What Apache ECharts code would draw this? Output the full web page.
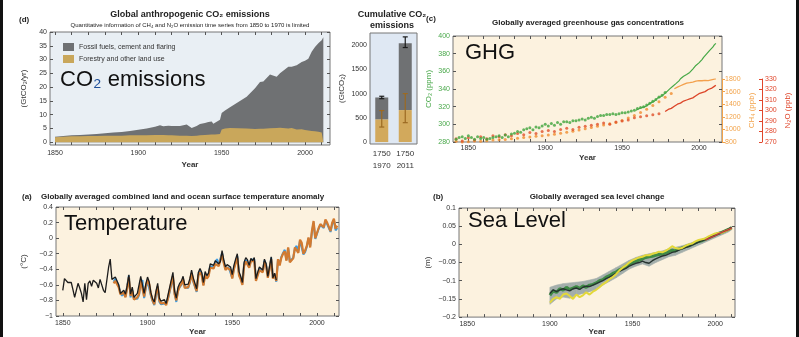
<!DOCTYPE html>
<html>
<head>
<meta charset="utf-8">
<script src="https://cdn.jsdelivr.net/npm/echarts@6/dist/echarts.min.js"></script>
<style>
  html, body { margin: 0; padding: 0; background: #fff; }
  #chart { width: 799px; height: 337px; }
</style>
</head>
<body>
<div id="chart"></div>
<script>
// ---- (d) annual CO2 emissions, GtCO2/yr (top of grey area = total, top of tan area = land use) ----
const emYears = [1850, 1855, 1860, 1865, 1870, 1875, 1880, 1885, 1890, 1895,
  1900, 1905, 1910, 1913, 1915, 1918, 1920, 1921, 1925, 1929,
  1932, 1935, 1937, 1940, 1942, 1944, 1945, 1946, 1949, 1950,
  1952, 1955, 1960, 1965, 1970, 1973, 1975, 1979, 1980, 1983,
  1985, 1990, 1992, 1995, 1998, 2000, 2002, 2004, 2006, 2008,
  2009, 2010, 2011];
const emTotal = [2.0, 2.3, 2.5, 2.6, 2.8, 3.0, 3.3, 3.5, 3.7, 4.1,
  4.5, 5.0, 5.6, 6.2, 5.8, 6.0, 5.9, 5.4, 5.9, 6.4,
  5.2, 5.9, 6.6, 7.0, 7.3, 7.5, 6.7, 7.0, 8.2, 10.6,
  11.5, 12.7, 14.6, 16.5, 19.6, 21.9, 22.0, 24.6, 24.5, 23.8,
  25.0, 27.4, 27.4, 27.9, 29.1, 29.6, 30.3, 32.8, 34.6, 35.9,
  35.4, 37.0, 38.1];
const emLand = [1.8, 2.0, 2.2, 2.2, 2.3, 2.3, 2.4, 2.4, 2.4, 2.5,
  2.5, 2.5, 2.6, 2.6, 2.6, 2.5, 2.5, 2.5, 2.4, 2.4,
  2.3, 2.4, 2.5, 2.6, 2.7, 2.8, 2.8, 2.8, 3.0, 4.6,
  5.0, 5.2, 5.1, 5.0, 4.8, 4.9, 4.9, 5.1, 5.1, 5.2,
  5.3, 5.0, 5.2, 4.6, 4.7, 4.4, 4.3, 4.1, 4.0, 3.8,
  3.6, 3.5, 3.3];

// ---- cumulative CO2 emissions, GtCO2 ----
const cumCats = ['1750\n1970', '1750\n2011'];
const cumLand = [470, 660];
const cumFossil = [450, 1380];
const cumTotalLo = [895, 1950];
const cumTotalHi = [945, 2170];
const cumLandLo = [310, 400];
const cumLandHi = [650, 1000];

// ---- (c) greenhouse gas concentrations ----
const co2DotYears = [1842, 1844, 1846, 1848, 1850, 1852, 1854, 1856, 1858, 1860,
  1862, 1864, 1866, 1868, 1870, 1872, 1874, 1876, 1878, 1880,
  1882, 1884, 1886, 1888, 1890, 1892, 1894, 1896, 1898, 1900,
  1902, 1904, 1906, 1908, 1910, 1912, 1914, 1916, 1918, 1920,
  1922, 1924, 1926, 1928, 1930, 1932, 1934, 1936, 1938, 1940,
  1942, 1944, 1946, 1948, 1950, 1952, 1954, 1956, 1958, 1960,
  1962, 1964, 1966, 1968, 1970, 1972, 1974, 1976, 1978];
const co2DotVals = [283, 285, 286, 284, 287, 285, 283, 286, 284, 285,
  283, 284, 285, 286, 287, 285, 288, 286, 289, 290,
  292, 291, 294, 295, 296, 294, 297, 296, 298, 300,
  298, 301, 299, 302, 300, 303, 303, 302, 304, 304,
  305, 306, 305, 307, 308, 307, 309, 310, 310, 311,
  311, 312, 311, 312, 313, 313, 314, 315, 316, 318,
  319, 320, 322, 324, 326, 328, 331, 333, 336];
const co2LineYears = [1959, 1960, 1961, 1962, 1963, 1964, 1965, 1966, 1967, 1968,
  1969, 1970, 1971, 1972, 1973, 1974, 1975, 1976, 1977, 1978,
  1979, 1980, 1981, 1982, 1983, 1984, 1985, 1986, 1987, 1988,
  1989, 1990, 1991, 1992, 1993, 1994, 1995, 1996, 1997, 1998,
  1999, 2000, 2001, 2002, 2003, 2004, 2005, 2006, 2007, 2008,
  2009, 2010, 2011];
const co2LineVals = [316.0, 316.9, 317.6, 318.5, 319.0, 319.6, 320.0, 321.4, 322.2, 323.0,
  324.6, 325.7, 326.3, 327.5, 329.7, 330.2, 331.1, 332.0, 333.8, 335.4,
  336.8, 338.8, 340.1, 341.5, 343.1, 344.7, 346.1, 347.4, 349.2, 351.6,
  353.1, 354.4, 355.6, 356.5, 357.1, 358.8, 360.8, 362.6, 363.7, 366.7,
  368.4, 369.6, 371.1, 373.3, 375.8, 377.5, 379.8, 381.9, 383.8, 385.6,
  387.4, 389.9, 391.7];
const ch4DotYears = [1842, 1846, 1850, 1854, 1858, 1862, 1866, 1870, 1874, 1878,
  1882, 1886, 1890, 1894, 1898, 1902, 1906, 1910, 1914, 1918,
  1922, 1926, 1930, 1934, 1938, 1942, 1946, 1950, 1954, 1958,
  1962, 1966, 1970, 1974, 1978, 1982];
const ch4DotVals = [810, 800, 805, 815, 810, 820, 830, 835, 840, 850,
  860, 870, 880, 890, 900, 910, 925, 940, 955, 970,
  990, 1010, 1030, 1050, 1070, 1090, 1110, 1140, 1180, 1220,
  1270, 1320, 1380, 1440, 1510, 1570];
const ch4LineYears = [1984, 1986, 1988, 1990, 1992, 1994, 1996, 1998, 2000, 2002, 2004, 2006, 2008, 2010, 2011];
const ch4LineVals = [1645, 1670, 1693, 1714, 1735, 1742, 1751, 1766, 1773, 1772, 1777, 1775, 1787, 1799, 1803];
const n2oDotYears = [1842, 1846, 1850, 1854, 1858, 1862, 1866, 1870, 1874, 1878,
  1882, 1886, 1890, 1894, 1898, 1902, 1906, 1910, 1914, 1918,
  1922, 1926, 1930, 1934, 1938, 1942, 1946, 1950, 1954, 1958,
  1962, 1966, 1970, 1974];
const n2oDotVals = [273, 271, 274, 272, 275, 273, 276, 275, 277, 276,
  278, 277, 279, 278, 280, 281, 280, 282, 283, 282,
  284, 285, 286, 287, 288, 287, 289, 290, 291, 293,
  294, 295, 296, 297];
const n2oLineYears = [1978, 1980, 1982, 1984, 1986, 1988, 1990, 1992, 1994, 1996, 1998, 2000, 2002, 2004, 2006, 2008, 2010, 2011];
const n2oLineVals = [299, 301, 302, 304, 306, 307, 309, 310, 311, 312, 314, 316, 317, 318, 320, 321, 323, 324];

// ---- (a) temperature anomaly, degC (yearly) ----
const tempBlackStart = 1850;
const tempBlack = [-0.67, -0.52, -0.53, -0.57, -0.55, -0.57, -0.66, -0.76, -0.77, -0.58,
  -0.64, -0.71, -0.82, -0.58, -0.79, -0.58, -0.55, -0.62, -0.54, -0.56,
  -0.58, -0.64, -0.53, -0.60, -0.67, -0.70, -0.68, -0.38, -0.27, -0.53,
  -0.53, -0.50, -0.51, -0.60, -0.71, -0.69, -0.67, -0.72, -0.61, -0.47,
  -0.72, -0.63, -0.76, -0.77, -0.71, -0.69, -0.49, -0.51, -0.71, -0.59,
  -0.50, -0.56, -0.70, -0.78, -0.82, -0.68, -0.58, -0.77, -0.81, -0.82,
  -0.79, -0.84, -0.74, -0.72, -0.54, -0.44, -0.68, -0.77, -0.63, -0.58,
  -0.55, -0.49, -0.60, -0.58, -0.59, -0.52, -0.41, -0.51, -0.51, -0.65,
  -0.44, -0.39, -0.44, -0.57, -0.43, -0.48, -0.45, -0.33, -0.31, -0.35,
  -0.29, -0.28, -0.33, -0.30, -0.16, -0.28, -0.37, -0.34, -0.34, -0.37,
  -0.47, -0.35, -0.27, -0.20, -0.43, -0.49, -0.57, -0.31, -0.25, -0.28,
  -0.35, -0.26, -0.29, -0.25, -0.52, -0.44, -0.37, -0.37, -0.41, -0.27,
  -0.33, -0.49, -0.37, -0.24, -0.51, -0.45, -0.54];
const tempColorStart = 1880;
const tempOrange = [-0.58, -0.55, -0.56, -0.63, -0.72, -0.73, -0.70, -0.76, -0.64, -0.50,
  -0.74, -0.68, -0.79, -0.80, -0.76, -0.72, -0.54, -0.55, -0.75, -0.62,
  -0.54, -0.59, -0.72, -0.80, -0.85, -0.71, -0.62, -0.80, -0.84, -0.86,
  -0.83, -0.86, -0.78, -0.76, -0.58, -0.49, -0.72, -0.80, -0.68, -0.62,
  -0.59, -0.53, -0.64, -0.62, -0.63, -0.56, -0.45, -0.55, -0.55, -0.68,
  -0.48, -0.44, -0.48, -0.61, -0.47, -0.52, -0.49, -0.38, -0.36, -0.39,
  -0.33, -0.31, -0.36, -0.34, -0.21, -0.32, -0.41, -0.38, -0.39, -0.41,
  -0.52, -0.40, -0.32, -0.25, -0.48, -0.53, -0.60, -0.36, -0.30, -0.32,
  -0.38, -0.30, -0.32, -0.29, -0.55, -0.48, -0.41, -0.40, -0.44, -0.31,
  -0.36, -0.51, -0.40, -0.27, -0.52, -0.47, -0.55, -0.27, -0.35, -0.25,
  -0.20, -0.17, -0.29, -0.12, -0.31, -0.33, -0.26, -0.12, -0.11, -0.19,
  -0.02, -0.06, -0.20, -0.16, -0.10, 0.01, -0.12, 0.09, 0.22, 0.00,
  -0.01, 0.13, 0.18, 0.19, 0.14, 0.24, 0.20, 0.19, 0.09, 0.20,
  0.25, 0.12, 0.16];
const tempBlue = [-0.56, -0.52, -0.54, -0.61, -0.70, -0.74, -0.71, -0.75, -0.62, -0.48,
  -0.76, -0.67, -0.78, -0.79, -0.78, -0.73, -0.57, -0.54, -0.77, -0.64,
  -0.55, -0.57, -0.74, -0.81, -0.86, -0.74, -0.64, -0.82, -0.85, -0.86,
  -0.84, -0.85, -0.79, -0.77, -0.60, -0.52, -0.71, -0.82, -0.66, -0.63,
  -0.60, -0.55, -0.63, -0.62, -0.64, -0.57, -0.46, -0.56, -0.56, -0.69,
  -0.47, -0.42, -0.46, -0.60, -0.46, -0.50, -0.47, -0.36, -0.34, -0.37,
  -0.31, -0.27, -0.34, -0.33, -0.19, -0.31, -0.38, -0.36, -0.38, -0.40,
  -0.51, -0.38, -0.31, -0.23, -0.46, -0.52, -0.58, -0.34, -0.28, -0.30,
  -0.37, -0.28, -0.30, -0.27, -0.53, -0.47, -0.39, -0.39, -0.43, -0.29,
  -0.34, -0.49, -0.39, -0.25, -0.51, -0.46, -0.56, -0.28, -0.33, -0.24,
  -0.19, -0.15, -0.28, -0.13, -0.30, -0.31, -0.25, -0.13, -0.10, -0.17,
  -0.03, -0.04, -0.21, -0.18, -0.11, 0.00, -0.10, 0.07, 0.20, -0.01,
  -0.02, 0.12, 0.17, 0.17, 0.13, 0.22, 0.18, 0.19, 0.08, 0.18,
  0.23, 0.10, 0.13];

// ---- (b) sea level change, m ----
const seaYears = [1900, 1902, 1904, 1906, 1908, 1910, 1912, 1914, 1916, 1918,
  1920, 1922, 1924, 1926, 1928, 1930, 1932, 1934, 1936, 1938,
  1940, 1942, 1944, 1946, 1948, 1950, 1952, 1954, 1956, 1958,
  1960, 1962, 1964, 1966, 1968, 1970, 1972, 1974, 1976, 1978,
  1980, 1982, 1984, 1986, 1988, 1990, 1992, 1994, 1996, 1998,
  2000, 2002, 2004, 2006, 2008, 2010];
const seaGreen = [-0.140, -0.128, -0.132, -0.122, -0.126, -0.118, -0.124, -0.120, -0.116, -0.121,
  -0.114, -0.118, -0.112, -0.110, -0.106, -0.100, -0.097, -0.090, -0.086, -0.080,
  -0.076, -0.070, -0.066, -0.060, -0.054, -0.050, -0.046, -0.043, -0.040, -0.036,
  -0.034, -0.033, -0.030, -0.028, -0.026, -0.024, -0.020, -0.016, -0.018, -0.013,
  -0.010, -0.006, -0.004, 0.000, 0.004, 0.008, 0.010, 0.014, 0.018, 0.022,
  0.026, 0.030, 0.033, 0.037, 0.041, 0.046];
const seaDark = [-0.135, -0.125, -0.130, -0.125, -0.122, -0.125, -0.128, -0.122, -0.120, -0.124,
  -0.118, -0.115, -0.116, -0.112, -0.108, -0.104, -0.100, -0.094, -0.090, -0.085,
  -0.080, -0.074, -0.070, -0.066, -0.060, -0.056, -0.052, -0.050, -0.046, -0.050,
  -0.052, -0.045, -0.040, -0.036, -0.032, -0.030, -0.026, -0.022, -0.020, -0.016,
  -0.012, -0.009, -0.006, -0.002, 0.002, 0.006, 0.010, 0.013, 0.017, 0.021,
  0.025, 0.029, 0.033, 0.037, 0.042, 0.047];
const seaYellow = [-0.160, -0.150, -0.145, -0.150, -0.138, -0.135, -0.142, -0.150, -0.138, -0.145,
  -0.140, -0.132, -0.138, -0.130, -0.125, -0.118, -0.110, -0.104, -0.096, -0.090,
  -0.082, -0.072, -0.064, -0.058, -0.050, -0.044, -0.040, -0.036, -0.034, -0.030,
  -0.030, -0.026, -0.024, -0.020, -0.022, -0.018, -0.012, -0.005, -0.010, -0.012,
  -0.010, -0.004, 0.000, 0.002, 0.008, 0.012, 0.014, 0.016, 0.022, 0.026,
  0.030, 0.031, 0.032, 0.036, 0.040, 0.044];
const seaRedYears = [1994, 1996, 1998, 2000, 2002, 2004, 2006, 2008, 2010];
const seaRed = [0.012, 0.016, 0.020, 0.024, 0.029, 0.033, 0.037, 0.040, 0.045];
const seaBandYears = [1900, 1904, 1908, 1912, 1916, 1920, 1924, 1928, 1932, 1936,
  1940, 1944, 1948, 1952, 1956, 1960, 1964, 1968, 1972, 1976,
  1980, 1984, 1988, 1992, 1996, 2000, 2004, 2008, 2010];
const seaBandLo = [-0.165, -0.150, -0.145, -0.148, -0.140, -0.135, -0.130, -0.124, -0.112, -0.102,
  -0.092, -0.080, -0.068, -0.060, -0.054, -0.060, -0.050, -0.042, -0.034, -0.030,
  -0.022, -0.014, -0.006, 0.002, 0.010, 0.018, 0.026, 0.034, 0.040];
const seaBandHi = [-0.118, -0.112, -0.108, -0.106, -0.104, -0.102, -0.098, -0.094, -0.084, -0.074,
  -0.064, -0.054, -0.044, -0.036, -0.030, -0.026, -0.022, -0.018, -0.012, -0.008,
  -0.004, 0.002, 0.008, 0.014, 0.022, 0.030, 0.036, 0.042, 0.048];

// ---- tick values ----
const yearLabels = [1850, 1900, 1950, 2000];
const decadeTicks = [1850, 1860, 1870, 1880, 1890, 1900, 1910, 1920, 1930, 1940, 1950, 1960, 1970, 1980, 1990, 2000, 2010];
const emTicks = [0, 5, 10, 15, 20, 25, 30, 35, 40];
const cumTicks = [0, 500, 1000, 1500, 2000];
const co2Ticks = [280, 300, 320, 340, 360, 380, 400];
const ch4Ticks = [800, 1000, 1200, 1400, 1600, 1800];
const n2oTicks = [270, 280, 290, 300, 310, 320, 330];
const tempTicks = [-1, -0.8, -0.6, -0.4, -0.2, 0, 0.2, 0.4];
const seaTicks = [-0.2, -0.15, -0.1, -0.05, 0, 0.05, 0.1];

const FONT = '"Liberation Sans", Arial, sans-serif';
const pairs = (xs, ys) => xs.map((x, i) => [x, ys[i]]);
const byStart = (start, ys) => ys.map((y, i) => [start + i, y]);
const plain = (v) => (v < 0 ? '\u2212' + Math.abs(v) : String(v));

const chart = echarts.init(document.getElementById('chart'), null, { renderer: 'canvas' });

function label(values, color, margin) {
  return { customValues: values, fontSize: 7, color: color || '#333', margin: margin == null ? 3 : margin, fontFamily: FONT, formatter: plain };
}
function xAxisOf(grid, min, max, labels, extra) {
  return Object.assign({
    type: 'value', gridIndex: grid, min: min, max: max, position: 'bottom',
    axisLine: { show: false, onZero: false }, splitLine: { show: false },
    axisTick: { inside: true, length: 3, customValues: decadeTicks, lineStyle: { color: '#555' } },
    axisLabel: labels ? label(labels) : { show: false },
    name: labels ? 'Year' : '', nameLocation: 'middle', nameGap: 15,
    nameTextStyle: { fontSize: 8, fontWeight: 'bold', color: '#333', fontFamily: FONT }
  }, extra || {});
}
function yAxisOf(grid, min, max, ticks, labels, extra) {
  return Object.assign({
    type: 'value', gridIndex: grid, min: min, max: max, position: 'left',
    axisLine: { show: false, onZero: false }, splitLine: { show: false },
    axisTick: { inside: true, length: 3, customValues: ticks, lineStyle: { color: '#555' } },
    axisLabel: labels ? label(labels) : { show: false },
    nameLocation: 'middle', nameRotate: 90,
    nameTextStyle: { fontSize: 8, color: '#333', fontFamily: FONT }
  }, extra || {});
}

function errorBars(color) {
  return (params, api) => {
    const lo = api.coord([api.value(0), api.value(1)]);
    const hi = api.coord([api.value(0), api.value(2)]);
    const st = { stroke: color, lineWidth: 1.2 };
    return {
      type: 'group', children: [
        { type: 'line', shape: { x1: lo[0], y1: lo[1], x2: hi[0], y2: hi[1] }, style: st },
        { type: 'line', shape: { x1: lo[0] - 2.5, y1: lo[1], x2: lo[0] + 2.5, y2: lo[1] }, style: st },
        { type: 'line', shape: { x1: hi[0] - 2.5, y1: hi[1], x2: hi[0] + 2.5, y2: hi[1] }, style: st }
      ]
    };
  };
}

const cream = '#fcf2df';
const border = '#777';

const option = {
  animation: false,
  backgroundColor: '#fff',
  textStyle: { fontFamily: FONT },
  grid: [
    { left: 50, top: 32, width: 280, height: 113, show: true, backgroundColor: '#e9eff4', borderColor: border },
    { left: 370, top: 33, width: 47, height: 111, show: true, backgroundColor: '#dfe8f3', borderColor: border },
    { left: 453, top: 36, width: 269, height: 106, show: true, backgroundColor: cream, borderColor: border },
    { left: 453, top: 79, width: 269, height: 63, show: false },
    { left: 56, top: 207, width: 283, height: 114, show: true, backgroundColor: cream, borderColor: border },
    { left: 459, top: 208, width: 276, height: 112, show: true, backgroundColor: cream, borderColor: border }
  ],
  legend: {
    data: ['Fossil fuels, cement and flaring', 'Forestry and other land use'],
    left: 58, top: 38, orient: 'vertical', icon: 'rect',
    itemWidth: 11, itemHeight: 8, itemGap: 4, selectedMode: false,
    textStyle: { fontSize: 7, color: '#333', fontFamily: FONT }
  },
  xAxis: [
    xAxisOf(0, 1847, 2015, yearLabels, { nameGap: 16, axisLabel: label(yearLabels, '#333', 5) }),
    xAxisOf(0, 1847, 2015, null, { position: 'top' }),
    {
      type: 'category', gridIndex: 1, data: cumCats,
      axisLine: { show: false }, axisTick: { show: false },
      axisLabel: { fontSize: 8, lineHeight: 12, color: '#333', margin: 4, fontFamily: FONT }
    },
    xAxisOf(2, 1840, 2015, yearLabels, { nameGap: 12 }),
    xAxisOf(2, 1840, 2015, null, { position: 'top' }),
    xAxisOf(3, 1840, 2015, null, { show: false }),
    xAxisOf(4, 1846, 2013, yearLabels, { nameGap: 12, axisLabel: label(yearLabels, '#333', 4) }),
    xAxisOf(4, 1846, 2013, null, { position: 'top' }),
    xAxisOf(5, 1845, 2012, yearLabels, { nameGap: 10 }),
    xAxisOf(5, 1845, 2012, null, { position: 'top' })
  ],
  yAxis: [
    yAxisOf(0, -1, 40, emTicks, emTicks, { name: '(GtCO\u2082/yr)', nameGap: 22 }),
    yAxisOf(0, -1, 40, emTicks, null, { position: 'right' }),
    yAxisOf(1, -40, 2250, cumTicks, cumTicks, { name: '(GtCO\u2082)', nameGap: 24 }),
    yAxisOf(1, -40, 2250, cumTicks, null, { position: 'right' }),
    yAxisOf(2, 280, 400, co2Ticks, co2Ticks, {
      name: 'CO\u2082 (ppm)', nameGap: 20,
      axisLabel: label(co2Ticks, '#49a84a'),
      nameTextStyle: { fontSize: 8, color: '#49a84a', fontFamily: FONT }
    }),
    yAxisOf(2, 280, 400, co2Ticks, null, { position: 'right' }),
    yAxisOf(3, 800, 1800, ch4Ticks, ch4Ticks, {
      position: 'right', name: 'CH\u2084 (ppb)', nameGap: 26,
      axisLine: { show: true, onZero: false, lineStyle: { color: '#f2a34a' } },
      axisTick: { inside: false, length: 3, customValues: ch4Ticks, lineStyle: { color: '#f2a34a' } },
      axisLabel: label(ch4Ticks, '#f2a34a'),
      nameTextStyle: { fontSize: 8, color: '#f2a34a', fontFamily: FONT }
    }),
    yAxisOf(3, 270, 330, n2oTicks, n2oTicks, {
      position: 'right', offset: 40, name: 'N\u2082O (ppb)', nameGap: 22,
      axisLine: { show: true, onZero: false, lineStyle: { color: '#e0472c' } },
      axisTick: { inside: true, length: 3, customValues: n2oTicks, lineStyle: { color: '#e0472c' } },
      axisLabel: label(n2oTicks, '#e0472c'),
      nameTextStyle: { fontSize: 8, color: '#e0472c', fontFamily: FONT }
    }),
    yAxisOf(4, -1, 0.4, tempTicks, tempTicks, { name: '(\u00b0C)', nameGap: 28 }),
    yAxisOf(4, -1, 0.4, tempTicks, null, { position: 'right' }),
    yAxisOf(5, -0.2, 0.1, seaTicks, seaTicks, { name: '(m)', nameGap: 27 }),
    yAxisOf(5, -0.2, 0.1, seaTicks, null, { position: 'right' })
  ],
  series: [
    // (d) emissions: grey total area, tan land-use area drawn over it
    {
      name: 'Fossil fuels, cement and flaring', type: 'line', xAxisIndex: 0, yAxisIndex: 0,
      data: pairs(emYears, emTotal), showSymbol: false,
      color: '#6f7173', lineStyle: { width: 0 }, areaStyle: { color: '#6f7173', opacity: 1, origin: 0 }
    },
    {
      name: 'Forestry and other land use', type: 'line', xAxisIndex: 0, yAxisIndex: 0,
      data: pairs(emYears, emLand), showSymbol: false,
      color: '#c9a75b', lineStyle: { width: 0 }, areaStyle: { color: '#c9a75b', opacity: 1, origin: 0 }
    },
    // cumulative bars
    {
      name: 'Cumulative land', type: 'bar', xAxisIndex: 2, yAxisIndex: 2, stack: 'cum',
      barWidth: 13, data: cumLand, itemStyle: { color: '#d2a95c' }
    },
    {
      name: 'Cumulative fossil', type: 'bar', xAxisIndex: 2, yAxisIndex: 2, stack: 'cum',
      barWidth: 13, data: cumFossil, itemStyle: { color: '#6f7173' }
    },
    {
      type: 'custom', xAxisIndex: 2, yAxisIndex: 2, z: 5,
      data: cumTotalLo.map((lo, i) => [i, lo, cumTotalHi[i]]),
      renderItem: errorBars('#1b1b1b')
    },
    {
      type: 'custom', xAxisIndex: 2, yAxisIndex: 2, z: 5,
      data: cumLandLo.map((lo, i) => [i, lo, cumLandHi[i]]),
      renderItem: errorBars('#9c6a22')
    },
    // (c) greenhouse gases
    {
      type: 'scatter', xAxisIndex: 5, yAxisIndex: 6, symbolSize: 3,
      data: pairs(ch4DotYears, ch4DotVals), itemStyle: { color: '#f08c2e' }
    },
    {
      type: 'line', xAxisIndex: 5, yAxisIndex: 6, showSymbol: false,
      data: pairs(ch4LineYears, ch4LineVals), lineStyle: { color: '#f3a04c', width: 1.3 }
    },
    {
      type: 'scatter', xAxisIndex: 5, yAxisIndex: 7, symbolSize: 3,
      data: pairs(n2oDotYears, n2oDotVals), itemStyle: { color: '#e0502a' }
    },
    {
      type: 'line', xAxisIndex: 5, yAxisIndex: 7, showSymbol: false,
      data: pairs(n2oLineYears, n2oLineVals), lineStyle: { color: '#dc4528', width: 1.3 }
    },
    {
      type: 'scatter', xAxisIndex: 3, yAxisIndex: 4, symbolSize: 3,
      data: pairs(co2DotYears, co2DotVals), itemStyle: { color: '#3fa43c' }
    },
    {
      type: 'line', xAxisIndex: 3, yAxisIndex: 4, showSymbol: false,
      data: pairs(co2LineYears, co2LineVals), lineStyle: { color: '#46a846', width: 1.2 }
    },
    // (a) temperature
    {
      type: 'line', xAxisIndex: 6, yAxisIndex: 8, showSymbol: false,
      data: byStart(tempColorStart, tempBlue), lineStyle: { color: '#3d9be0', width: 2 }
    },
    {
      type: 'line', xAxisIndex: 6, yAxisIndex: 8, showSymbol: false,
      data: byStart(tempColorStart, tempOrange), lineStyle: { color: '#d27a30', width: 2.2 }
    },
    {
      type: 'line', xAxisIndex: 6, yAxisIndex: 8, showSymbol: false,
      data: byStart(tempBlackStart, tempBlack), lineStyle: { color: '#1c1c1c', width: 1.3 }
    },
    // (b) sea level
    {
      type: 'custom', xAxisIndex: 8, yAxisIndex: 10,
      data: seaBandYears.map((y, i) => [y, seaBandLo[i], seaBandHi[i]]),
      renderItem: (params, api) => {
        const i = params.dataIndex;
        if (i >= seaBandYears.length - 1) return null;
        const pts = [
          api.coord([seaBandYears[i], seaBandLo[i]]),
          api.coord([seaBandYears[i + 1], seaBandLo[i + 1]]),
          api.coord([seaBandYears[i + 1], seaBandHi[i + 1]]),
          api.coord([seaBandYears[i], seaBandHi[i]])
        ];
        return { type: 'polygon', shape: { points: pts }, style: { fill: '#a3aeab', stroke: '#a3aeab', lineWidth: 0.6 } };
      }
    },
    {
      type: 'line', xAxisIndex: 8, yAxisIndex: 10, showSymbol: false,
      data: pairs(seaYears, seaGreen), lineStyle: { color: '#3f8a45', width: 3 }
    },
    {
      type: 'line', xAxisIndex: 8, yAxisIndex: 10, showSymbol: false,
      data: pairs(seaYears, seaDark), lineStyle: { color: '#26332f', width: 1.4 }
    },
    {
      type: 'line', xAxisIndex: 8, yAxisIndex: 10, showSymbol: false,
      data: pairs(seaYears, seaYellow), lineStyle: { color: '#e3d83a', width: 2 }
    },
    {
      type: 'line', xAxisIndex: 8, yAxisIndex: 10, showSymbol: false,
      data: pairs(seaRedYears, seaRed), lineStyle: { color: '#b9413d', width: 1.6 }
    }
  ],
  graphic: [
    { type: 'rect', left: 0, top: 0, shape: { width: 3, height: 337 }, style: { fill: '#111' } },
    { type: 'rect', left: 796, top: 0, shape: { width: 3, height: 337 }, style: { fill: '#111' } },
    // panel d
    { type: 'text', left: 19, top: 16, style: { text: '(d)', font: 'bold 8px ' + FONT, fill: '#222' } },
    { type: 'text', x: 190, y: 15, style: { text: 'Global anthropogenic CO\u2082 emissions', font: 'bold 9px ' + FONT, fill: '#222', align: 'center', verticalAlign: 'middle' } },
    { type: 'text', x: 190, y: 25, style: { text: 'Quantitative information of CH\u2084 and N\u2082O emission time series from 1850 to 1970 is limited', font: '6px ' + FONT, fill: '#222', align: 'center', verticalAlign: 'middle' } },
    { type: 'text', x: 60, y: 80, z: 10, style: { text: '{a|CO}{b|\u2082}{a| emissions}', verticalAlign: 'middle', rich: { a: { fontSize: 22, fontFamily: FONT, fill: '#111' }, b: { fontSize: 22, fontFamily: FONT, fill: '#1e4f9a' } } } },
    // cumulative
    { type: 'text', x: 392, y: 15, style: { text: 'Cumulative CO\u2082', font: 'bold 9px ' + FONT, fill: '#222', align: 'center', verticalAlign: 'middle' } },
    { type: 'text', x: 392, y: 26, style: { text: 'emissions', font: 'bold 9px ' + FONT, fill: '#222', align: 'center', verticalAlign: 'middle' } },
    // panel c
    { type: 'text', x: 431, y: 19, style: { text: '(c)', font: 'bold 8px ' + FONT, fill: '#222', align: 'center', verticalAlign: 'middle' } },
    { type: 'text', x: 588, y: 23, style: { text: 'Globally averaged greenhouse gas concentrations', font: 'bold 8px ' + FONT, fill: '#222', align: 'center', verticalAlign: 'middle' } },
    { type: 'text', x: 465, y: 53, z: 10, style: { text: 'GHG', font: '22px ' + FONT, fill: '#111', verticalAlign: 'middle' } },
    // panel a
    { type: 'text', x: 22, y: 197, style: { text: '(a)', font: 'bold 8px ' + FONT, fill: '#222', verticalAlign: 'middle' } },
    { type: 'text', x: 41, y: 197, style: { text: 'Globally averaged combined land and ocean surface temperature anomaly', font: 'bold 8px ' + FONT, fill: '#222', verticalAlign: 'middle' } },
    { type: 'text', x: 64, y: 224, z: 10, style: { text: 'Temperature', font: '22px ' + FONT, fill: '#111', verticalAlign: 'middle' } },
    // panel b
    { type: 'text', x: 433, y: 197, style: { text: '(b)', font: 'bold 8px ' + FONT, fill: '#222', verticalAlign: 'middle' } },
    { type: 'text', x: 597, y: 197, style: { text: 'Globally averaged sea level change', font: 'bold 8px ' + FONT, fill: '#222', align: 'center', verticalAlign: 'middle' } },
    { type: 'text', x: 468, y: 221, z: 10, style: { text: 'Sea Level', font: '22px ' + FONT, fill: '#111', verticalAlign: 'middle' } }
  ]
};

chart.setOption(option);
</script>
</body>
</html>
